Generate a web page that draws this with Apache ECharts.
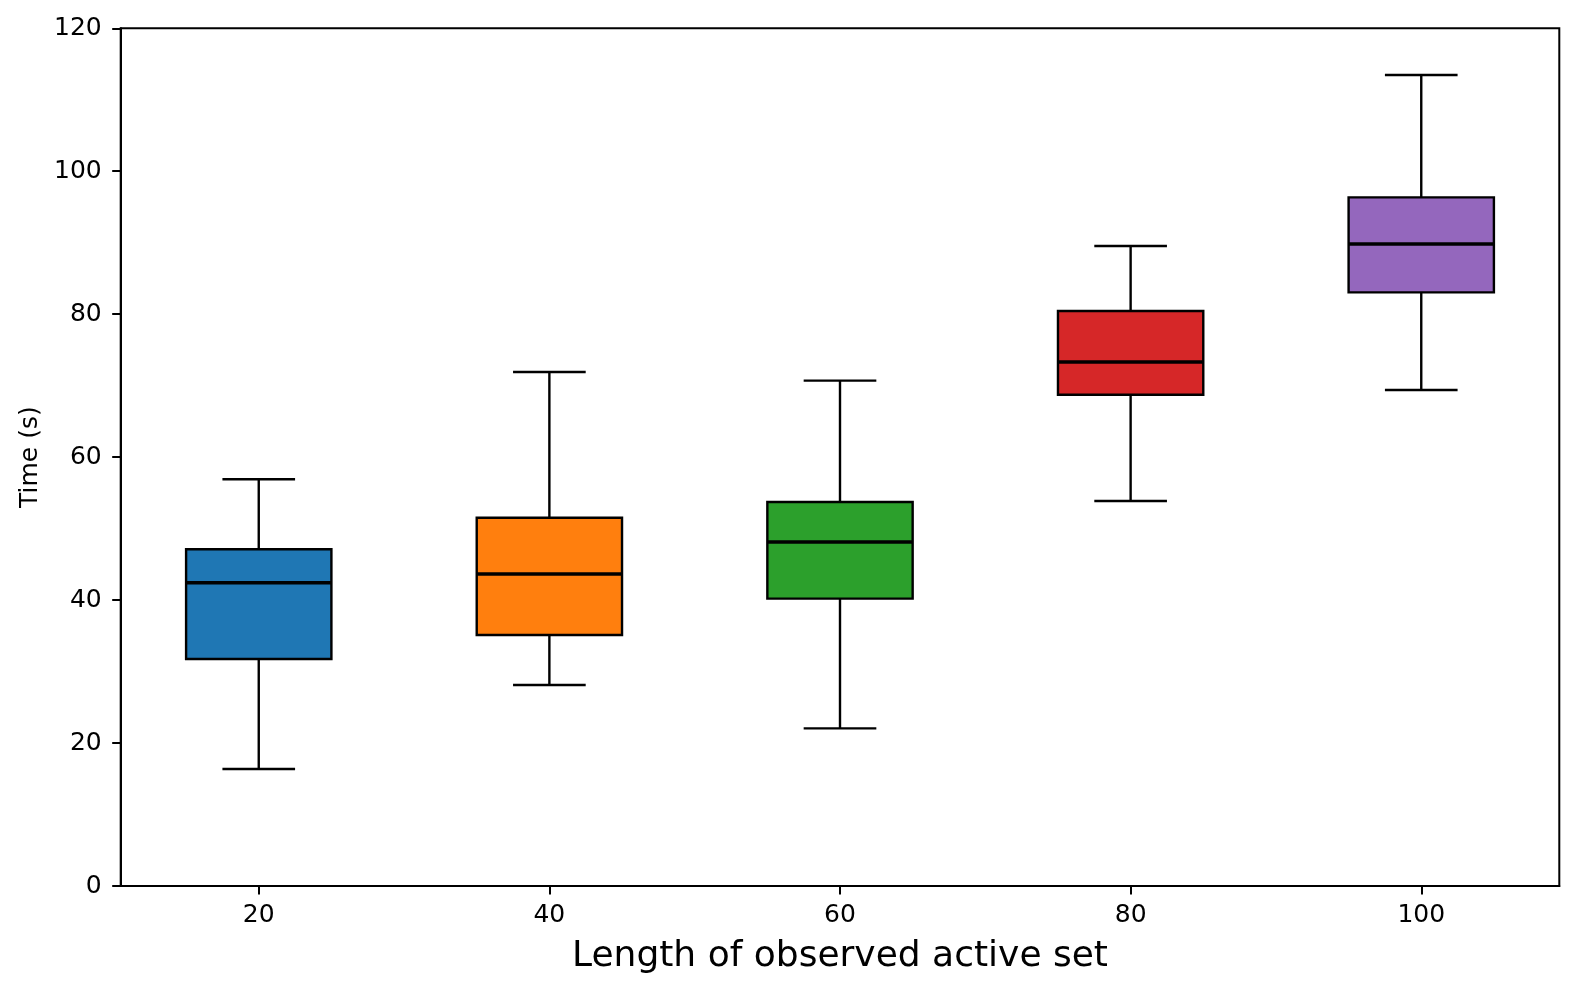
<!DOCTYPE html>
<html>
<head>
<meta charset="utf-8">
<script src="https://cdn.jsdelivr.net/npm/echarts@6/dist/echarts.min.js"></script>
<style>
html,body{margin:0;padding:0;background:#fff;}
#chart{width:1578px;height:993px;}
</style>
</head>
<body>
<div id="chart"></div>
<script>
// Data
const positions = [20, 40, 60, 80, 100];
const whiskerLow = [16.37, 28.12, 22.06, 53.86, 69.39];
const q1 = [31.76, 35.12, 40.20, 68.74, 83.06];
const median = [42.43, 43.65, 48.13, 73.31, 89.82];
const q3 = [47.11, 51.53, 53.73, 80.45, 96.35];
const whiskerHigh = [56.90, 71.91, 70.70, 89.54, 113.47];
const boxColors = ['#1f77b4', '#ff7f0e', '#2ca02c', '#d62728', '#9467bd'];
const xTicks = [20, 40, 60, 80, 100];
const xTitle = 'Length of observed active set';
const yTitle = 'Time (s)';

const boxWidth = 10;
const capWidth = 5;
const FONT = 'DejaVu Sans';

const seriesData = positions.map((p, i) => [p, whiskerLow[i], q1[i], median[i], q3[i], whiskerHigh[i], i]);

function renderItem(params, api) {
  const x = api.value(0);
  const lo = api.coord([x, api.value(1)]);
  const pq1 = api.coord([x, api.value(2)]);
  const pmed = api.coord([x, api.value(3)]);
  const pq3 = api.coord([x, api.value(4)]);
  const hi = api.coord([x, api.value(5)]);
  const idx = api.value(6);
  const halfW = api.size([boxWidth, 0])[0] / 2;
  const capHalf = api.size([capWidth, 0])[0] / 2;
  const cx = lo[0];
  const lineStyle = { stroke: '#000', lineWidth: 2.4, fill: null };
  return {
    type: 'group',
    children: [
      { type: 'line', shape: { x1: cx, y1: pq1[1], x2: cx, y2: lo[1] }, style: lineStyle },
      { type: 'line', shape: { x1: cx, y1: pq3[1], x2: cx, y2: hi[1] }, style: lineStyle },
      { type: 'line', shape: { x1: cx - capHalf, y1: lo[1], x2: cx + capHalf, y2: lo[1] }, style: lineStyle },
      { type: 'line', shape: { x1: cx - capHalf, y1: hi[1], x2: cx + capHalf, y2: hi[1] }, style: lineStyle },
      { type: 'rect', shape: { x: cx - halfW, y: pq3[1], width: halfW * 2, height: pq1[1] - pq3[1] },
        style: { fill: boxColors[idx], stroke: '#000', lineWidth: 2.4 } },
      { type: 'line', shape: { x1: cx - halfW, y1: pmed[1], x2: cx + halfW, y2: pmed[1] },
        style: { stroke: '#000', lineWidth: 3.6 } }
    ]
  };
}

const chart = echarts.init(document.getElementById('chart'), null, { renderer: 'canvas' });
chart.setOption({
  backgroundColor: '#fff',
  animation: false,
  grid: { left: 120.7, right: 18.7, top: 28.3, bottom: 107, show: true, borderColor: '#000', borderWidth: 2, backgroundColor: 'transparent' },
  xAxis: {
    type: 'value', min: 10.5, max: 109.5,
    name: xTitle, nameLocation: 'middle', nameGap: 53,
    nameTextStyle: { fontFamily: FONT, fontSize: 36, color: '#000' },
    axisLine: { show: true, onZero: false, lineStyle: { color: '#000', width: 2 } },
    axisTick: { show: true, length: 8.5, lineStyle: { color: '#000', width: 2 }, customValues: xTicks },
    axisLabel: { fontFamily: FONT, fontSize: 25, color: '#000', margin: 17, customValues: xTicks },
    splitLine: { show: false }
  },
  yAxis: {
    type: 'value', min: 0, max: 120, interval: 20,
    name: yTitle, nameLocation: 'middle', nameGap: 78,
    nameTextStyle: { fontFamily: FONT, fontSize: 25, color: '#000' },
    axisLine: { show: true, lineStyle: { color: '#000', width: 2 } },
    axisTick: { show: true, length: 8.5, lineStyle: { color: '#000', width: 2 } },
    axisLabel: { fontFamily: FONT, fontSize: 25, color: '#000', margin: 19 },
    splitLine: { show: false }
  },
  series: [{
    type: 'custom',
    renderItem: renderItem,
    dimensions: ['pos', 'low', 'q1', 'median', 'q3', 'high', 'idx'],
    encode: { x: 0, y: [1, 2, 3, 4, 5] },
    data: seriesData,
    clip: false
  }]
});
</script>
</body>
</html>
